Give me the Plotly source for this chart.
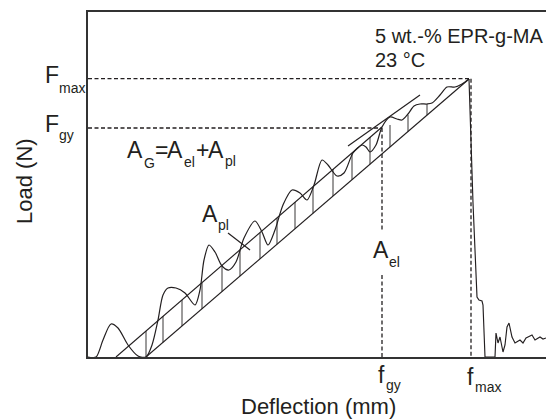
import numpy as np
import plotly.graph_objects as go

# ---- data (arbitrary deflection / load units) ----
curve_x = [0, 8, 15, 23, 30, 40, 50, 58, 64, 70, 75, 80, 88, 97, 107, 112, 116, 121, 127, 134,
           141, 148, 156, 167, 174, 180, 187, 195, 204, 212, 219, 226, 234, 240, 249, 256, 265,
           274, 278, 282, 288, 294, 302, 309, 314, 320, 326, 332, 339, 344, 352, 359, 367, 374, 381]
curve_y = [0, 0, 17, 33, 29, 12, 1, 0, 12, 37, 62, 69, 69, 64, 52, 67, 97, 112, 105, 91,
           87, 95, 119, 136, 125, 112, 127, 152, 167, 164, 157, 172, 197, 192, 181, 184, 204,
           212, 210, 205, 212, 230, 240, 238, 237, 243, 251, 253, 253, 254, 262, 270, 270, 273, 278]

fracture_x = [381, 385, 389, 391, 394, 395, 397, 407, 408, 410, 412, 415, 417, 419, 421, 424,
              427, 430, 432, 435, 438, 440, 444, 447, 450, 452, 455, 458]
fracture_y = [278, 154, 60, 57, 56, 52, 0, 0, 24, 14, 20, 5, 12, 30, 34, 20,
              14, 16, 17, 14, 19, 20, 22, 17, 19, 20, 18, 19]

elastic_x = [58, 381]
elastic_y = [0, 278]
mean_x = [28, 294]
mean_y = [0, 230]
tangent_x = [260, 332]
tangent_y = [211, 262]

hatch_x = [58, 75, 94, 114, 134, 152, 172, 189, 207, 225, 245, 264, 282, 302, 320, 339]
hatch_top = [26, 41, 57, 74, 92, 107, 124, 139, 155, 170, 188, 204, 220, 232, 242, 253]

F_max, F_gy = 278.3, 229
f_gy, f_max = 294, 383
el_gap = (82, 127)          # gap in the f_gy line around the A_el label
pointer_x = [140, 162]
pointer_y = [124, 107]

X_RANGE = [0, 458]
Y_RANGE = [0, 345]

INK = "#231f20"
FONT = "Liberation Sans, Arial, sans-serif"

fig = go.Figure()

line = dict(color=INK, width=1.15)
dash = dict(color=INK, width=1.3, dash="4px,2.5px")

# hatching between the elastic line and the mean line
hatch_bottom = np.interp(hatch_x, elastic_x, elastic_y)
hx, hy = [], []
for x, b, t in zip(hatch_x, hatch_bottom, hatch_top):
    hx += [x, x, None]
    hy += [b, t, None]
fig.add_trace(go.Scatter(x=hx, y=hy, mode="lines", line=dict(color=INK, width=0.9), hoverinfo="skip"))

# dashed guide lines
fig.add_trace(go.Scatter(x=[0, curve_x[-1], None, 0, f_gy],
                         y=[F_max, F_max, None, F_gy, F_gy],
                         mode="lines", line=dash, hoverinfo="skip"))
fig.add_trace(go.Scatter(x=[f_gy, f_gy, None, f_gy, f_gy, None, f_max, f_max],
                         y=[F_gy, el_gap[1], None, el_gap[0], 0, None, F_max, 0],
                         mode="lines", line=dash, hoverinfo="skip"))

# straight construction lines
for xs, ys in [(elastic_x, elastic_y), (mean_x, mean_y), (tangent_x, tangent_y), (pointer_x, pointer_y)]:
    fig.add_trace(go.Scatter(x=xs, y=ys, mode="lines", line=line, hoverinfo="skip"))

# measured curve
fig.add_trace(go.Scatter(x=curve_x, y=curve_y, mode="lines",
                         line=dict(color=INK, width=1.2, shape="spline", smoothing=0.8)))
fig.add_trace(go.Scatter(x=fracture_x, y=fracture_y, mode="lines", line=line))

# ---- text (placed in paper coordinates so labels outside the axes still show) ----
L0, T0, PW, PH = 88, 12, 458, 345   # plot-area pixel frame

def lab(px, base, text, size, anchor="left"):
    return dict(x=(px - L0) / PW, y=(T0 + PH - base - 0.212 * size) / PH, xref="paper", yref="paper",
                text=text, showarrow=False, xanchor=anchor, yanchor="bottom", borderpad=0, borderwidth=0,
                font=dict(size=size, family=FONT, color=INK))

big, small = 23, 14
ann = [
    lab(375, 43, "5 wt.-% EPR-g-MA", 20),
    lab(375, 67, "23 °C", 20),
    lab(45, 83, "F", big), lab(59, 93, "max", small),
    lab(45, 132, "F", big), lab(59, 140, "gy", small),
    lab(127, 158, "A", big), lab(144, 168, "G", small),
    lab(155, 158, "=", big),
    lab(167, 158, "A", big), lab(184, 167, "el", small),
    lab(196, 158, "+", big),
    lab(208, 158, "A", big), lab(225, 166, "pl", small),
    lab(202, 222, "A", big), lab(218, 230, "pl", small),
    lab(373, 258, "A", big), lab(389, 267, "el", small),
    lab(378, 383, "f", big), lab(386, 390, "gy", small),
    lab(467, 385, "f", big), lab(475, 392, "max", small),
    lab(318, 414, "Deflection (mm)", 22, anchor="center"),
]
ann.append(dict(x=(24 - L0) / PW, y=(T0 + PH - 181) / PH, xref="paper", yref="paper",
                text="Load (N)", textangle=-90,
                showarrow=False, xanchor="center", yanchor="middle", borderpad=0, borderwidth=0,
                font=dict(size=22, family=FONT, color=INK)))

axis = dict(showline=True, linecolor="#333", linewidth=1.5, showgrid=False, zeroline=False,
            showticklabels=False, ticks="", fixedrange=True)
fig.update_layout(
    width=546, height=420,
    margin=dict(l=88, r=0, t=12, b=63),
    paper_bgcolor="white", plot_bgcolor="white",
    showlegend=False,
    xaxis=dict(axis, range=X_RANGE, mirror=True),
    yaxis=dict(axis, range=Y_RANGE),
    annotations=ann,
)
fig.write_html("out.html")
